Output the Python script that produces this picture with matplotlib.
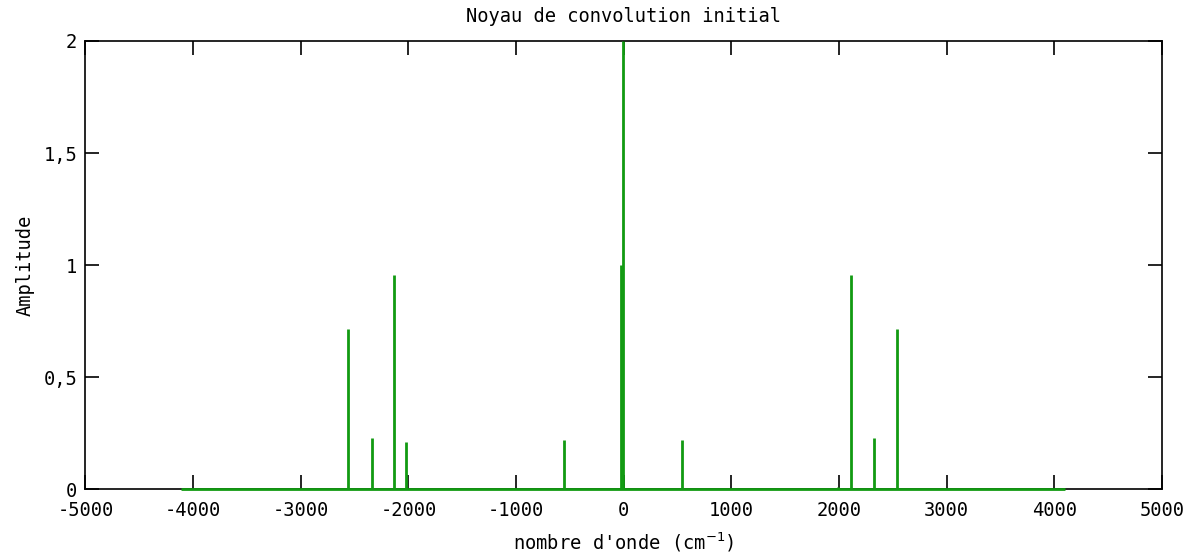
import matplotlib
matplotlib.use("Agg")
import matplotlib.pyplot as plt
import numpy as np

# Kernel spikes: wavenumber positions (cm^-1) and amplitudes
peak_pos = [-2559, -2336, -2132, -2020, -558, -21, -3, 538, 1987, 2108, 2324, 2535]
peak_amp = [0.714, 0.23, 0.955, 0.211, 0.222, 1.0, 2.0, 0.222, 0.01, 0.958, 0.229, 0.714]
support = [-4115, 4100]   # extent of the sampled kernel

x_ticks = [-5000, -4000, -3000, -2000, -1000, 0, 1000, 2000, 3000, 4000, 5000]
y_ticks = [0, 0.5, 1, 1.5, 2]
y_tick_labels = ["0", "0,5", "1", "1,5", "2"]

green = "#129a12"
plt.rcParams["font.family"] = ["DejaVu Sans Mono"]
plt.rcParams["mathtext.fontset"] = "dejavusans"
fs = 13.5

fig = plt.figure(figsize=(11.92, 5.6), dpi=100)
ax = fig.add_axes([0.0717, 0.1259, 0.9031, 0.8009])

ax.hlines(0, support[0], support[1], color=green, lw=2, zorder=3, clip_on=False)
ax.vlines(peak_pos, 0, peak_amp, color=green, lw=2, zorder=3, clip_on=False)

ax.set_xlim(-5000, 5000)
ax.set_ylim(0, 2)
ax.set_xticks(x_ticks)
ax.set_xticklabels([str(v) for v in x_ticks])
ax.set_yticks(y_ticks)
ax.set_yticklabels(y_tick_labels)
ax.tick_params(direction="in", length=10, width=1.2, top=True, right=True,
               labelsize=fs, color="black")
ax.tick_params(axis="x", pad=8)
ax.tick_params(axis="y", pad=6)
for s in ax.spines.values():
    s.set_linewidth(1.2)

ax.set_title("Noyau de convolution initial", fontsize=fs, pad=14)
ax.set_xlabel("nombre d'onde (cm$^{-1}$)", fontsize=fs, labelpad=8)
ax.set_ylabel("Amplitude", fontsize=fs, labelpad=6)

fig.savefig("out.png", dpi=100)
